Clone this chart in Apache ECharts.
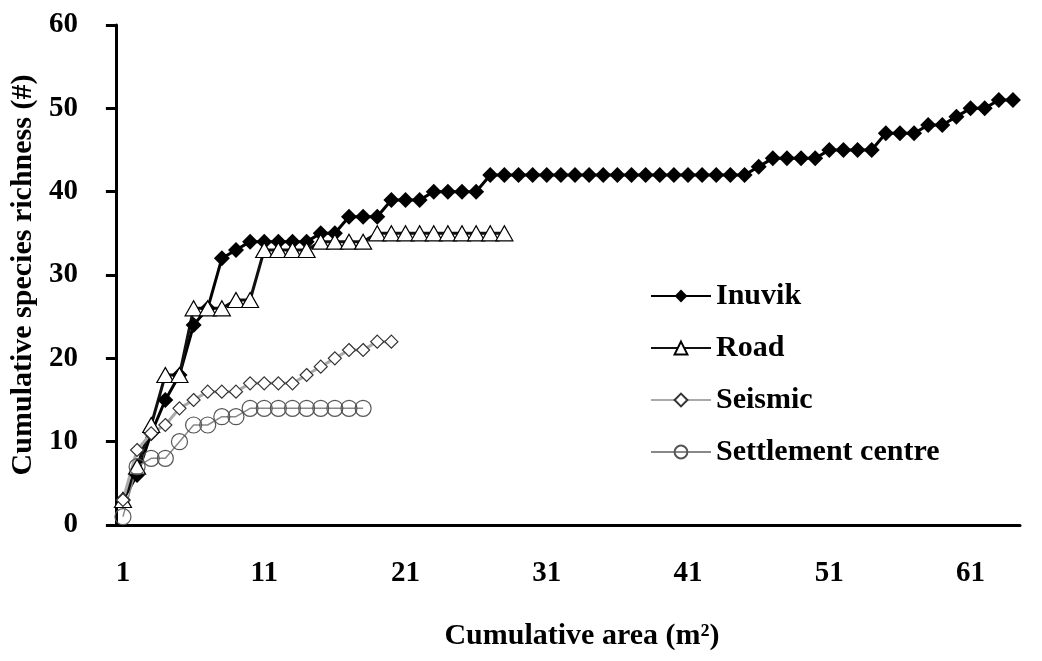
<!DOCTYPE html>
<html>
<head>
<meta charset="utf-8">
<script src="https://cdn.jsdelivr.net/npm/echarts@6/dist/echarts.min.js"></script>
<style>
  html, body { margin: 0; padding: 0; background: #fff; }
  #chart { width: 1042px; height: 661px; }
</style>
</head>
<body>
<div id="chart"></div>
<script>
// cumulative species richness per sampled area (m2)
const inuvik = [3, 6, 11, 15, 18, 24, 26, 32, 33, 34, 34, 34, 34, 34, 35, 35, 37, 37, 37, 39,
  39, 39, 40, 40, 40, 40, 42, 42, 42, 42, 42, 42, 42, 42, 42, 42, 42, 42, 42, 42,
  42, 42, 42, 42, 42, 43, 44, 44, 44, 44, 45, 45, 45, 45, 47, 47, 47, 48, 48, 49,
  50, 50, 51, 51]
const road = [3, 7, 12, 18, 18, 26, 26, 26, 27, 27, 33, 33, 33, 33, 34, 34, 34, 34, 35, 35,
  35, 35, 35, 35, 35, 35, 35, 35]
const seismic = [3, 9, 11, 12, 14, 15, 16, 16, 16, 17, 17, 17, 17, 18, 19, 20, 21, 21, 22, 22]
const settlement = [1, 7, 8, 8, 10, 12, 12, 13, 13, 14, 14, 14, 14, 14, 14, 14, 14, 14]

const areas = inuvik.map((v, i) => String(i + 1))
const yTicks = { min: 0, max: 60, step: 10 }

const font = 'Liberation Serif, Times New Roman, serif'
const chart = echarts.init(document.getElementById('chart'))

const option = {
  animation: false,
  backgroundColor: '#fff',
  grid: {
    left: 114,
    right: 22,
    top: 25,
    bottom: 136
  },
  legend: {
    orient: 'vertical',
    left: 645,
    top: 276,
    itemWidth: 60,
    itemHeight: 16,
    itemGap: 22,
    textStyle: {
      fontFamily: font,
      fontWeight: 'bold',
      fontSize: 30,
      color: '#000'
    },
    data: ['Inuvik', 'Road', 'Seismic', 'Settlement centre']
  },
  xAxis: {
    type: 'category',
    data: areas,
    boundaryGap: true,
    name: 'Cumulative area (m²)',
    nameLocation: 'middle',
    nameGap: 96,
    nameTextStyle: {
      fontFamily: font,
      fontWeight: 'bold',
      fontSize: 30,
      color: '#000',
      padding: [0, 0, 0, 28]
    },
    axisLine: { lineStyle: { color: '#000', width: 3 } },
    axisTick: { interval: 4, length: 10, lineStyle: { color: '#000', width: 3 } },
    axisLabel: {
      interval: 9,
      margin: 34,
      fontFamily: font,
      fontWeight: 'bold',
      fontSize: 29,
      color: '#000'
    },
    splitLine: { show: false }
  },
  yAxis: {
    type: 'value',
    min: yTicks.min,
    max: yTicks.max,
    interval: yTicks.step,
    name: 'Cumulative species richness (#)',
    nameLocation: 'middle',
    nameGap: 64,
    nameTextStyle: {
      fontFamily: font,
      fontWeight: 'bold',
      fontSize: 30,
      color: '#000'
    },
    axisLine: { show: true, lineStyle: { color: '#000', width: 3 } },
    axisTick: { show: true, length: 10, lineStyle: { color: '#000', width: 3 } },
    axisLabel: {
      margin: 38,
      align: 'right',
      fontFamily: font,
      fontWeight: 'bold',
      fontSize: 29,
      color: '#000'
    },
    splitLine: { show: false }
  },
  series: [
    {
      name: 'Inuvik',
      type: 'line',
      data: inuvik,
      showAllSymbol: true,
      symbol: 'diamond',
      symbolSize: [16, 16],
      lineStyle: { color: '#000', width: 3 },
      itemStyle: { color: '#000', borderColor: '#000', borderWidth: 0 }
    },
    {
      name: 'Road',
      type: 'line',
      data: road,
      showAllSymbol: true,
      symbol: 'triangle',
      symbolSize: [17, 15],
      lineStyle: { color: '#111', width: 3 },
      itemStyle: { color: '#fff', borderColor: '#000', borderWidth: 1.2 }
    },
    {
      name: 'Seismic',
      type: 'line',
      data: seismic,
      showAllSymbol: true,
      symbol: 'diamond',
      symbolSize: [13, 13],
      lineStyle: { color: '#aaa', width: 3 },
      itemStyle: { color: '#fff', borderColor: '#333', borderWidth: 1.2 }
    },
    {
      name: 'Settlement centre',
      type: 'line',
      data: settlement,
      showAllSymbol: true,
      symbol: 'circle',
      symbolSize: 16,
      lineStyle: { color: '#888', width: 1.5 },
      itemStyle: { color: 'rgba(255,255,255,0)', borderColor: '#555', borderWidth: 1.2 }
    }
  ]
}

chart.setOption(option)
</script>
</body>
</html>
